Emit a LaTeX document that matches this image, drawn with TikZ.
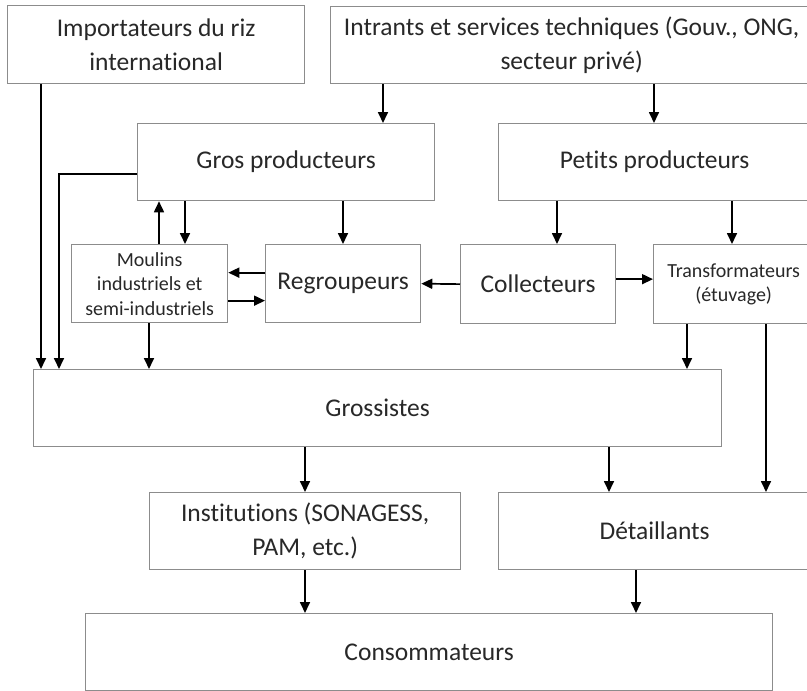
\documentclass[tikz,border=0pt]{standalone}
\usepackage{fontspec}
\setmainfont{Carlito}[RawFeature={-liga}]
\usetikzlibrary{arrows.meta}
\definecolor{bordergray}{RGB}{140,140,140}
\definecolor{txt}{RGB}{40,40,40}
\tikzset{
  box/.style={draw=bordergray, line width=1.3pt, fill=white, anchor=north west,
    align=center, inner sep=2pt, text=txt, font=\fontsize{25.5}{33.5}\selectfont},
  smallbox/.style={box, font=\fontsize{20}{24.5}\selectfont},
  arr/.style={line width=1.7pt, -{Triangle[length=11pt,width=10pt]}}
}
\begin{document}
\begin{tikzpicture}[x=1pt,y=-1pt]
\useasboundingbox (0,0) rectangle (807,691);
\node[box, minimum width=297pt, minimum height=78pt] (imp) at (7,5) {Importateurs du riz\\international};
\node[box, minimum width=482pt, minimum height=77pt] (intr) at (330,6) {Intrants et services techniques (Gouv., ONG,\\secteur privé)};
\node[box, minimum width=297pt, minimum height=77pt] (gros) at (137,123) {Gros producteurs};
\node[box, minimum width=312pt, minimum height=77pt] (petits) at (498,123) {Petits producteurs};
\node[smallbox, minimum width=156pt, minimum height=78pt] (moul) at (71,244) {Moulins\\industriels et\\semi-industriels};
\node[box, minimum width=155pt, minimum height=78pt] (regr) at (265,244) {Regroupeurs};
\node[box, minimum width=155pt, minimum height=79pt] (coll) at (460,244) {Collecteurs};
\node[smallbox, minimum width=160pt, minimum height=79pt] (transf) at (653,244) {Transformateurs\\(étuvage)};
\node[box, minimum width=688pt, minimum height=77pt] (gross) at (33,369) {Grossistes};
\node[box, minimum width=311pt, minimum height=77pt] (inst) at (149,492) {Institutions (SONAGESS,\\PAM, etc.)};
\node[box, minimum width=312pt, minimum height=77pt] (det) at (498,492) {Détaillants};
\node[box, minimum width=687pt, minimum height=77pt] (cons) at (85,613) {Consommateurs};

\draw[arr] ([xshift=34pt]imp.south west) -- ([xshift=8pt]gross.north west);
\draw[arr] ([yshift=-12pt]gros.west) -| ([xshift=26pt]gross.north west);
\draw[arr] ([xshift=53pt]intr.south west) -- ([xshift=246pt]gros.north west);
\draw[arr] ([xshift=324pt]intr.south west) -- ([xshift=156pt]petits.north west);
\draw[arr] ([xshift=88pt]moul.north west) -- ([xshift=22pt]gros.south west);
\draw[arr] ([xshift=48pt]gros.south west) -- ([xshift=114pt]moul.north west);
\draw[arr] ([xshift=206pt]gros.south west) -- ([xshift=78pt]regr.north west);
\draw[arr] ([yshift=11pt]regr.west) -- ([yshift=11pt]moul.east);
\draw[arr] ([yshift=-17pt]moul.east) -- ([yshift=-17pt]regr.west);
\draw[arr] (coll.west) -- (regr.east);
\draw[arr] ([yshift=5pt]coll.east) -- ([yshift=5pt]transf.west);
\draw[arr] ([xshift=59pt]petits.south west) -- ([xshift=97pt]coll.north west);
\draw[arr] ([xshift=234pt]petits.south west) -- ([xshift=79pt]transf.north west);
\draw[arr] ([xshift=78pt]moul.south west) -- ([xshift=116pt]gross.north west);
\draw[arr] ([xshift=34pt]transf.south west) -- ([xshift=654pt]gross.north west);
\draw[arr] ([xshift=113pt]transf.south west) -- ([xshift=268pt]det.north west);
\draw[arr] ([xshift=272pt]gross.south west) -- ([xshift=156pt]inst.north west);
\draw[arr] ([xshift=576pt]gross.south west) -- ([xshift=111pt]det.north west);
\draw[arr] ([xshift=156pt]inst.south west) -- ([xshift=220pt]cons.north west);
\draw[arr] ([xshift=138pt]det.south west) -- ([xshift=551pt]cons.north west);
\end{tikzpicture}
\end{document}
